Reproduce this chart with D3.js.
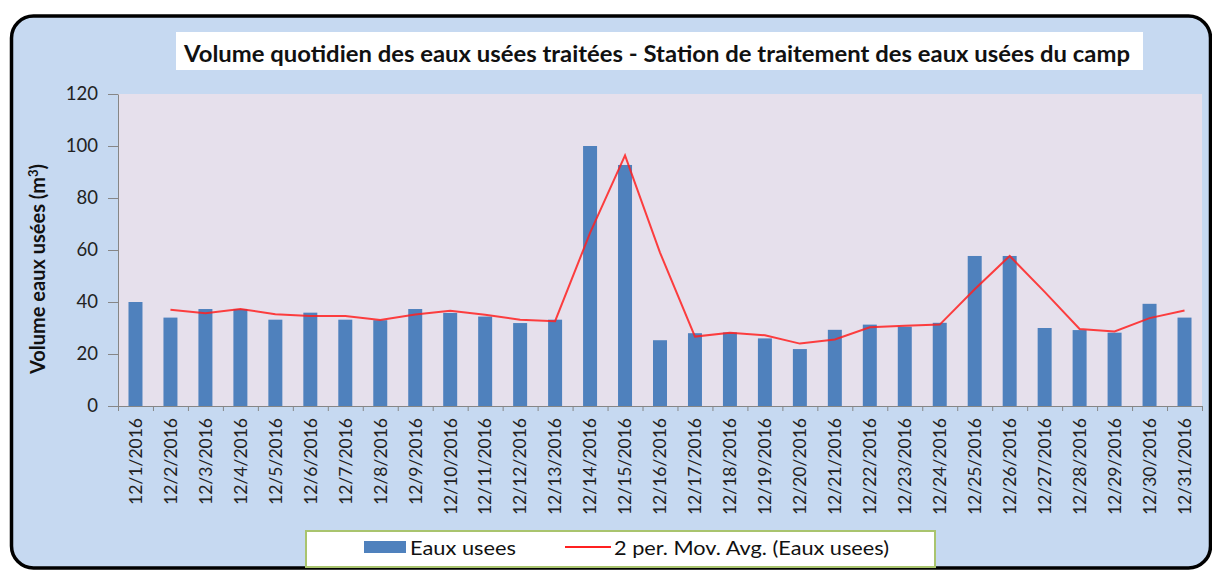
<!DOCTYPE html>
<meta charset="utf-8">
<style>
body { margin: 0; background: #fff; font-family: 'Lato', sans-serif; }
.axis path, .axis line { stroke: #868686; }
.axis text { fill: #222; font-family: 'Lato', sans-serif; }
</style>
<svg id="chart" width="1212" height="571"></svg>
<script src="https://cdn.jsdelivr.net/npm/d3@7"></script>
<script>

// days of December 2016
var days = ["12/1/2016","12/2/2016","12/3/2016","12/4/2016","12/5/2016","12/6/2016","12/7/2016",
  "12/8/2016","12/9/2016","12/10/2016","12/11/2016","12/12/2016","12/13/2016","12/14/2016",
  "12/15/2016","12/16/2016","12/17/2016","12/18/2016","12/19/2016","12/20/2016","12/21/2016",
  "12/22/2016","12/23/2016","12/24/2016","12/25/2016","12/26/2016","12/27/2016","12/28/2016",
  "12/29/2016","12/30/2016","12/31/2016"];

// daily volume (m3)
var eauxUsees = [40, 34, 37.3, 37.3, 33.2, 35.9, 33.2, 33, 37.3, 35.8, 34.4, 31.9, 33.2, 100,
  92.7, 25.3, 28, 28.3, 26, 21.9, 29.3, 31.3, 30.5, 32, 57.7, 57.7, 30, 29.2, 28.2, 39.3, 34];

// 2 per. moving average, starts on 12/2
var movAvg = [37, 35.7, 37.3, 35.3, 34.6, 34.6, 33.1, 35.2, 36.6, 35.1, 33.2, 32.6, 66.6,
  96.4, 59, 26.7, 28.2, 27.2, 24, 25.6, 30.3, 30.9, 31.3, 44.9, 57.7, 43.9, 29.6, 28.7, 33.8, 36.7];

var yTicks = [0, 20, 40, 60, 80, 100, 120];

var svg = d3.select("#chart");

// outer frame
svg.append("rect")
  .attr("x", 11.5).attr("y", 16)
  .attr("width", 1199).attr("height", 552)
  .attr("rx", 22)
  .attr("fill", "#c6d9f1")
  .attr("stroke", "#000")
  .attr("stroke-width", 3.5);

var plot = {left: 118, right: 1202, top: 94, bottom: 406};

var x = d3.scaleBand()
  .domain(days)
  .range([plot.left, plot.right])
  .paddingInner(0.6)
  .paddingOuter(0.3);

var y = d3.scaleLinear()
  .domain([0, 120])
  .range([plot.bottom, plot.top]);

svg.append("rect")
  .attr("x", plot.left).attr("y", plot.top)
  .attr("width", plot.right - plot.left)
  .attr("height", plot.bottom - plot.top)
  .attr("fill", "#e6e0ec");

// title
svg.append("rect")
  .attr("x", 176).attr("y", 32)
  .attr("width", 967).attr("height", 38)
  .attr("fill", "#fff");
svg.append("text")
  .attr("x", 184).attr("y", 62)
  .attr("textLength", 946)
  .attr("lengthAdjust", "spacingAndGlyphs")
  .style("font-size", "22px")
  .style("font-weight", "bold")
  .style("fill", "#111")
  .text("Volume quotidien des eaux usées traitées - Station de traitement des eaux usées du camp");

// bars
svg.append("g").selectAll("rect")
  .data(eauxUsees)
  .enter().append("rect")
    .attr("x", function(d, i) { return x(days[i]); })
    .attr("width", x.bandwidth())
    .attr("y", function(d) { return y(d); })
    .attr("height", function(d) { return y(0) - y(d); })
    .attr("fill", "#4f81bd");

// moving average
var line = d3.line()
  .x(function(d, i) { return x(days[i + 1]) + x.bandwidth() / 2; })
  .y(function(d) { return y(d); });

svg.append("path")
  .datum(movAvg)
  .attr("d", line)
  .attr("fill", "none")
  .attr("stroke", "#ff2020")
  .attr("stroke-opacity", 0.85)
  .attr("stroke-width", 2);

// y axis
var yAxis = svg.append("g")
  .attr("class", "axis")
  .attr("transform", "translate(" + plot.left + ",0)")
  .call(d3.axisLeft(y).tickValues(yTicks).tickSize(10).tickPadding(10).tickSizeOuter(0));
yAxis.selectAll("text").style("font-size", "18.5px");

// x axis: ticks between categories
var xIdx = d3.scaleLinear().domain([0, days.length]).range([plot.left, plot.right]);
svg.append("g")
  .attr("class", "axis")
  .attr("transform", "translate(0," + plot.bottom + ")")
  .call(d3.axisBottom(xIdx).tickValues(d3.range(days.length + 1)).tickFormat("").tickSize(5).tickSizeOuter(0));

var xAxis = svg.append("g")
  .attr("class", "axis")
  .attr("transform", "translate(0," + plot.bottom + ")")
  .call(d3.axisBottom(x).tickSize(0));
xAxis.select(".domain").remove();
xAxis.selectAll("text")
  .attr("transform", "rotate(-90)")
  .attr("x", -12)
  .attr("y", 0)
  .attr("dy", "0.36em")
  .style("text-anchor", "end")
  .style("font-size", "17.5px");

// y label
var yl = svg.append("text")
  .attr("transform", "translate(45,269) rotate(-90)")
  .style("text-anchor", "middle")
  .style("font-size", "20px")
  .style("font-weight", "bold")
  .style("fill", "#111");
yl.append("tspan").text("Volume eaux usées (m");
yl.append("tspan").attr("dy", -7).style("font-size", "13px").text("3");
yl.append("tspan").attr("dy", 7).text(")");

// legend
svg.append("rect")
  .attr("x", 306).attr("y", 531)
  .attr("width", 629).attr("height", 36)
  .attr("fill", "#fff")
  .attr("stroke", "#a9c46e")
  .attr("stroke-width", 2);
svg.append("rect")
  .attr("x", 364).attr("y", 541)
  .attr("width", 42).attr("height", 12)
  .attr("fill", "#4f81bd");
svg.append("text")
  .attr("x", 410).attr("y", 555)
  .attr("textLength", 106)
  .attr("lengthAdjust", "spacingAndGlyphs")
  .style("font-size", "19px")
  .style("fill", "#111")
  .text("Eaux usees");
svg.append("line")
  .attr("x1", 565).attr("x2", 611)
  .attr("y1", 547).attr("y2", 547)
  .attr("stroke", "#ff2020")
  .attr("stroke-width", 2);
svg.append("text")
  .attr("x", 614).attr("y", 555)
  .attr("textLength", 275)
  .attr("lengthAdjust", "spacingAndGlyphs")
  .style("font-size", "19px")
  .style("fill", "#111")
  .text("2 per. Mov. Avg. (Eaux usees)");

</script>
